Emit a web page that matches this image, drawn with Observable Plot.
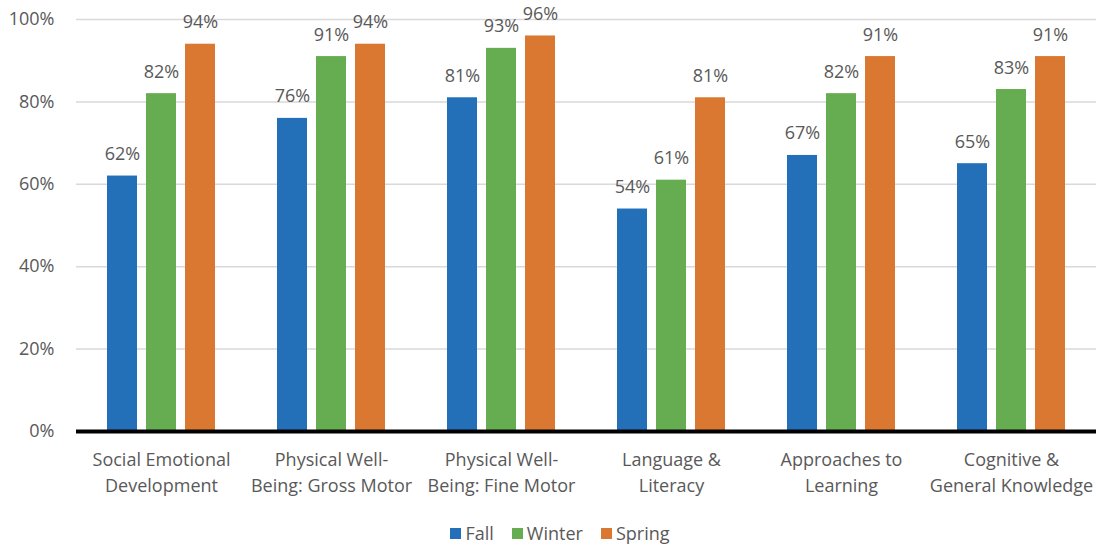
<!DOCTYPE html>
<html>
<head>
<meta charset="utf-8">
<script src="https://cdn.jsdelivr.net/npm/d3@7"></script>
<script src="https://cdn.jsdelivr.net/npm/@observablehq/plot@0.6"></script>
<style>
  html, body { margin: 0; padding: 0; background: #fff; }
  #chart { width: 1098px; height: 550px; overflow: hidden; font-family: "Open Sans", sans-serif; }
  #legend { display: flex; justify-content: center; align-items: center; height: 45px; padding-top: 11px; padding-left: 22px; box-sizing: border-box; font-size: 18px; color: #595959; gap: 18px; }
  #legend .item { display: flex; align-items: center; gap: 4px; }
  #legend .sw { width: 11px; height: 11px; display: inline-block; }
</style>
</head>
<body>
<div id="chart"></div>
<script>
const categories = [
  "Social Emotional\nDevelopment",
  "Physical Well-\nBeing: Gross Motor",
  "Physical Well-\nBeing: Fine Motor",
  "Language &\nLiteracy",
  "Approaches to\nLearning",
  "Cognitive &\nGeneral Knowledge"
];
const seasons = ["Fall", "Winter", "Spring"];
const fall = [62, 76, 81, 54, 67, 65];
const winter = [82, 91, 93, 61, 82, 83];
const spring = [94, 94, 96, 81, 91, 91];
const yTicks = [0, 20, 40, 60, 80, 100];
const colors = ["#2370b8", "#66ac50", "#da7730"];

const series = [fall, winter, spring];
const data = categories.flatMap((c, i) =>
  seasons.map((s, j) => ({category: c, season: s, value: series[j][i]}))
);

const chart = Plot.plot({
  width: 1098,
  height: 505,
  marginLeft: 75,
  marginRight: 2,
  marginTop: 19,
  marginBottom: 74,
  style: {fontFamily: "'Open Sans', sans-serif", fontSize: "17px", color: "#595959", background: "white"},
  fx: {domain: categories, padding: 0, label: null, axis: null},
  x: {domain: seasons, paddingInner: 0.22, paddingOuter: 0.78, axis: null},
  y: {domain: [0, 100], axis: null},
  color: {domain: seasons, range: colors},
  marks: [
    Plot.ruleY(yTicks.filter(d => d > 0), {stroke: "#d9d9d9", strokeWidth: 1.5}),
    Plot.barY(data, {fx: "category", x: "season", y: "value", fill: "season"}),
    Plot.text(data, {fx: "category", x: "season", y: "value", text: d => d.value + "%", lineAnchor: "bottom", dy: -16, fill: "#595959", fontSize: 18}),
    Plot.ruleY([0], {stroke: "black", strokeWidth: 4}),
    Plot.axisY({ticks: yTicks, tickFormat: d => d + "%", tickSize: 0, tickPadding: 22, fontSize: 18, label: null}),
    Plot.axisFx({anchor: "bottom", tickSize: 0, tickPadding: 16, lineHeight: 1.44, fontSize: 18, label: null})
  ]
});

const root = document.getElementById("chart");
root.appendChild(chart);
const legend = document.createElement("div");
legend.id = "legend";
seasons.forEach((s, i) => {
  const item = document.createElement("span");
  item.className = "item";
  const sw = document.createElement("span");
  sw.className = "sw";
  sw.style.background = colors[i];
  item.appendChild(sw);
  item.appendChild(document.createTextNode(s));
  legend.appendChild(item);
});
root.appendChild(legend);
</script>
</body>
</html>
